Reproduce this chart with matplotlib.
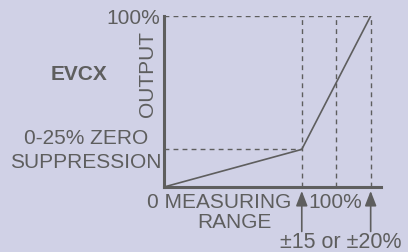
import matplotlib
matplotlib.use('Agg')
import matplotlib.pyplot as plt

# measuring range (% of span) vs output (%)
range_pts = [0, 80, 120]
output_pts = [0, 22, 100]
zero_supp = 22
range_100 = 100
x_max = 126

bg = '#d0d1e6'
ink = '#5e5e5e'
W, H = 408, 252

plt.rcParams['font.family'] = ['Liberation Sans', 'DejaVu Sans']

fig = plt.figure(figsize=(W / 100, H / 100), dpi=100, facecolor=bg)
ax = fig.add_axes([164 / W, (H - 187) / H, (381 - 164) / W, (187 - 16) / H])
ax.set_facecolor(bg)
ax.set_xlim(0, x_max)
ax.set_ylim(0, 100)
ax.set_xticks([])
ax.set_yticks([])
for s in ['top', 'right']:
    ax.spines[s].set_visible(False)
for s in ['left', 'bottom']:
    ax.spines[s].set_color(ink)
    ax.spines[s].set_linewidth(2.2)

dash = dict(color=ink, lw=1, ls=(0, (3.5, 3)))
ax.plot([0, range_pts[2]], [100, 100], **dash)
ax.plot([0, range_pts[1]], [zero_supp, zero_supp], **dash)
for xv in [range_pts[1], range_100, range_pts[2]]:
    ax.plot([xv, xv], [0, 100], **dash)

ax.plot(range_pts, output_pts, color=ink, lw=1.2, solid_capstyle='round')

for xv in [range_pts[1], range_pts[2]]:
    ax.annotate('', xy=(xv, -2.3), xytext=(xv, -26), xycoords='data',
                annotation_clip=False,
                arrowprops=dict(arrowstyle='-|>,head_length=0.9,head_width=0.35',
                                color=ink, lw=1.2, shrinkA=0, shrinkB=0))

def px(x, y):
    return x / W, 1 - y / H

fs = 15
fig.text(*px(160, 18), '100%', ha='right', va='center', fontsize=fs, color=ink)
fig.text(*px(79, 75), 'EVCX', ha='center', va='center', fontsize=15,
         color=ink, fontweight='bold')
fig.text(*px(148, 74), 'OUTPUT', ha='center', va='center', fontsize=fs,
         color=ink, rotation=90)
fig.text(*px(86, 139), '0-25% ZERO', ha='center', va='center', fontsize=fs, color=ink)
fig.text(*px(86, 162), 'SUPPRESSION', ha='center', va='center', fontsize=fs, color=ink)
fig.text(*px(147, 202), '0 MEASURING', ha='left', va='center', fontsize=fs, color=ink)
fig.text(*px(234, 223), 'RANGE', ha='center', va='center', fontsize=fs, color=ink)
fig.text(*px(335, 202), '100%', ha='center', va='center', fontsize=fs, color=ink)
fig.text(*px(341, 243), '\u00b115 or \u00b120%', ha='center', va='center',
         fontsize=15.5, color=ink)

fig.savefig('out.png', dpi=100, facecolor=bg)
